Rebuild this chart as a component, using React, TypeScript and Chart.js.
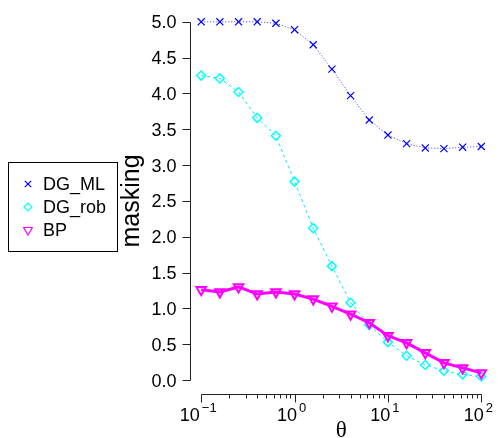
import React, { useEffect, useRef } from "react";
import { Chart, registerables } from "chart.js";
import { drawPoint } from "chart.js/helpers";

Chart.register(...registerables);

// theta grid (log-spaced, 10^-1 .. 10^2)
const theta = [0.1, 0.1585, 0.2512, 0.3981, 0.631, 1, 1.585, 2.512, 3.981, 6.31, 10, 15.85, 25.12, 39.81, 63.1, 100];

// masking per method
const dgML = [5.0, 5.0, 5.0, 5.0, 4.98, 4.89, 4.68, 4.34, 3.97, 3.63, 3.42, 3.3, 3.24, 3.23, 3.25, 3.26];
const dgRob = [4.25, 4.21, 4.02, 3.66, 3.41, 2.77, 2.12, 1.59, 1.08, 0.77, 0.53, 0.34, 0.21, 0.13, 0.08, 0.05];
const bp = [1.26, 1.23, 1.3, 1.2, 1.23, 1.2, 1.13, 1.03, 0.92, 0.8, 0.62, 0.52, 0.38, 0.24, 0.17, 0.1];

const seriesNames = ["DG_ML", "DG_rob", "BP"];

// axis ticks
const yTicks = [0, 0.5, 1, 1.5, 2, 2.5, 3, 3.5, 4, 4.5, 5];
const yTickLabels = ["0.0", "0.5", "1.0", "1.5", "2.0", "2.5", "3.0", "3.5", "4.0", "4.5", "5.0"];
const xMajor = [0.1, 1, 10, 100];
const xMajorExp = ["\u22121", "0", "1", "2"];

const SANS = "'Liberation Sans', Arial, Helvetica, sans-serif";

const toPts = (ys: number[]) => ys.map((y, i) => ({ x: theta[i], y }));

const rAxes = {
  id: "rAxes",
  afterDraw(chart: any) {
    const { ctx, chartArea, scales } = chart;
    const xs = scales.x;
    const ys = scales.y;
    ctx.save();
    ctx.strokeStyle = "#222";
    ctx.fillStyle = "#000";
    ctx.lineWidth = 1;

    // left axis
    const ax = Math.round(chartArea.left) + 0.5;
    const yTop = ys.getPixelForValue(yTicks[yTicks.length - 1]);
    const yBot = ys.getPixelForValue(yTicks[0]);
    ctx.beginPath();
    ctx.moveTo(ax, Math.round(yTop) + 0.5);
    ctx.lineTo(ax, Math.round(yBot) + 0.5);
    yTicks.forEach((v) => {
      const py = Math.round(ys.getPixelForValue(v)) + 0.5;
      ctx.moveTo(ax, py);
      ctx.lineTo(ax - 8, py);
    });
    ctx.stroke();
    ctx.font = `18px ${SANS}`;
    ctx.textAlign = "right";
    ctx.textBaseline = "alphabetic";
    yTicks.forEach((v, i) => {
      const py = ys.getPixelForValue(v);
      ctx.fillText(yTickLabels[i], ax - 14, py + 6.5);
    });

    // bottom axis
    const ay = Math.round(chartArea.bottom) + 0.5;
    const xL = xs.getPixelForValue(xMajor[0]);
    const xR = xs.getPixelForValue(xMajor[xMajor.length - 1]);
    ctx.beginPath();
    ctx.moveTo(Math.round(xL) + 0.5, ay);
    ctx.lineTo(Math.round(xR) + 0.5, ay);
    xMajor.forEach((v) => {
      const px = Math.round(xs.getPixelForValue(v)) + 0.5;
      ctx.moveTo(px, ay);
      ctx.lineTo(px, ay + 8);
    });
    for (let d = 0; d < xMajor.length - 1; d++) {
      for (let m = 2; m <= 9; m++) {
        const px = Math.round(xs.getPixelForValue(xMajor[d] * m)) + 0.5;
        ctx.moveTo(px, ay);
        ctx.lineTo(px, ay + 4);
      }
    }
    ctx.stroke();

    ctx.textAlign = "left";
    xMajor.forEach((v, i) => {
      const px = xs.getPixelForValue(v);
      ctx.font = `18px ${SANS}`;
      const wb = ctx.measureText("10").width;
      ctx.font = `13px ${SANS}`;
      const we = ctx.measureText(xMajorExp[i]).width;
      const start = px - (wb + 2 + we) / 2 - 3;
      ctx.font = `18px ${SANS}`;
      ctx.fillText("10", start, 421);
      ctx.font = `13px ${SANS}`;
      ctx.fillText(xMajorExp[i], start + wb + 2, 412);
    });

    // axis titles
    ctx.font = `23px 'Liberation Serif', 'DejaVu Serif', serif`;
    ctx.textAlign = "center";
    ctx.fillText("\u03b8", (xL + xR) / 2, 437);

    ctx.save();
    ctx.translate(139, (chartArea.top + chartArea.bottom) / 2);
    ctx.rotate(-Math.PI / 2);
    ctx.font = `25px ${SANS}`;
    ctx.textAlign = "center";
    ctx.fillText("masking", 0, 0);
    ctx.restore();

    // legend
    ctx.strokeStyle = "#000";
    ctx.strokeRect(8.5, 162.5, 109, 89);
    const rows = [184, 207, 230];
    ctx.font = `18px ${SANS}`;
    ctx.textAlign = "left";
    ctx.textBaseline = "middle";
    chart.data.datasets.forEach((ds: any, i: number) => {
      ctx.save();
      ctx.strokeStyle = ds.pointBorderColor;
      ctx.fillStyle = "rgba(0,0,0,0)";
      ctx.lineWidth = 1.2;
      drawPoint(ctx, { pointStyle: ds.pointStyle, rotation: ds.pointRotation || 0, radius: ds.pointRadius - 0.5, borderWidth: 1.2 }, 28, rows[i]);
      ctx.restore();
      ctx.fillStyle = "#000";
      ctx.fillText(seriesNames[i], 43, rows[i] + 1);
    });

    ctx.restore();
  },
};

export default function App() {
  const ref = useRef<HTMLCanvasElement>(null);

  useEffect(() => {
    const chart = new Chart(ref.current as HTMLCanvasElement, {
      type: "line",
      data: {
        datasets: [
          {
            label: seriesNames[0],
            data: toPts(dgML),
            borderColor: "#3a3aff",
            borderWidth: 1,
            borderDash: [1, 2],
            pointStyle: "crossRot",
            pointRadius: 5,
            pointBorderColor: "#0000ff",
            pointBackgroundColor: "rgba(0,0,0,0)",
            pointBorderWidth: 1.2,
            order: 2,
          },
          {
            label: seriesNames[1],
            data: toPts(dgRob),
            borderColor: "#00e5ff",
            borderWidth: 1,
            borderDash: [3, 3],
            pointStyle: "rectRot",
            pointRadius: 4.5,
            pointBorderColor: "#00ffff",
            pointBackgroundColor: "rgba(0,0,0,0)",
            pointBorderWidth: 1.5,
            order: 1,
          },
          {
            label: seriesNames[2],
            data: toPts(bp),
            borderColor: "#ff00ff",
            borderWidth: 3,
            pointStyle: "triangle",
            pointRotation: 180,
            pointRadius: 5.5,
            pointBorderColor: "#ff00ff",
            pointBackgroundColor: "rgba(0,0,0,0)",
            pointBorderWidth: 2,
            order: 0,
          },
        ] as any,
      },
      options: {
        responsive: false,
        animation: false,
        devicePixelRatio: 1,
        layout: { padding: { left: 190, right: 5.3, top: 5.6, bottom: 43.6 } },
        plugins: { legend: { display: false }, tooltip: { enabled: false } },
        elements: { line: { tension: 0 } },
        scales: {
          x: { type: "logarithmic", display: false, min: Math.pow(10, -1.12), max: Math.pow(10, 2.12) },
          y: { type: "linear", display: false, min: -0.2, max: 5.2 },
        },
      },
      plugins: [rAxes],
    });
    return () => chart.destroy();
  }, []);

  return (
    <div style={{ position: "fixed", left: 0, top: 0, width: 500, height: 438, background: "#fff" }}>
      <canvas ref={ref} width={500} height={438} style={{ display: "block" }} />
    </div>
  );
}
